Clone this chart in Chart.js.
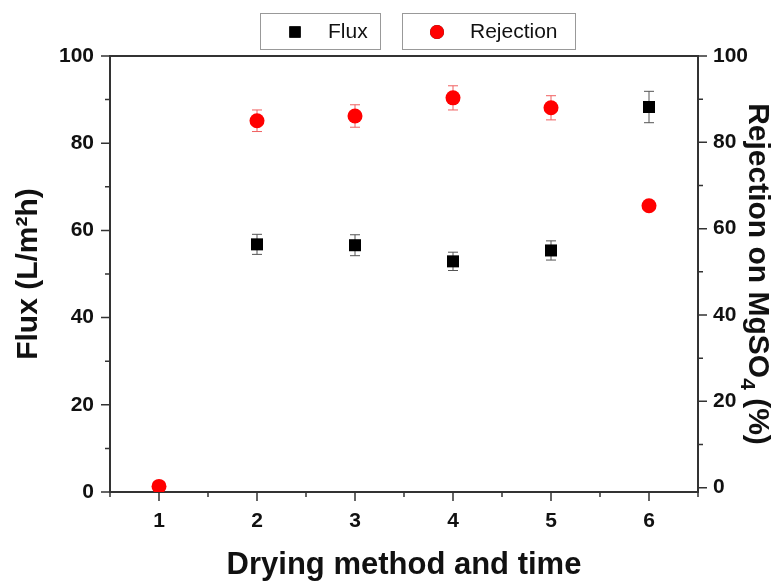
<!DOCTYPE html>
<html>
<head>
<meta charset="utf-8">
<script src="https://cdn.jsdelivr.net/npm/chart.js@4.4.1/dist/chart.umd.min.js"></script>
<style>
  body { margin: 0; background: #fff; }
  #wrap { width: 781px; height: 581px; }
</style>
</head>
<body>
<div id="wrap"><canvas id="chart" width="781" height="581"></canvas></div>
<script>
// drying method index on the x axis
const methods = [1, 2, 3, 4, 5, 6];
// flux (L/m2h), left axis; no square visible at method 1
const flux = [null, 56.8, 56.6, 52.9, 55.4, 88.3];
const fluxErr = [0, 2.3, 2.4, 2.1, 2.2, 3.6];
// rejection on MgSO4 (%), right axis
const rejection = [0.3, 85.0, 86.1, 90.3, 88.0, 65.3];
const rejectionErr = [0, 2.5, 2.6, 2.8, 2.8, 0.8];
// axis tick labels
const leftTicks = [0, 20, 40, 60, 80, 100];
const rightTicks = [0, 20, 40, 60, 80, 100];

const FONT = "'Liberation Sans', Arial, sans-serif";
const AXIS = '#333';

const toPoints = (ys) => methods.map((x, i) => ({ x: x, y: ys[i] })).filter(p => p.y !== null);

// error bars, drawn through the scales
const errorBars = {
    id: 'errorBars',
    beforeDatasetsDraw(chart) {
        const ctx = chart.ctx;
        const sets = [
            { ys: flux, errs: fluxErr, axis: 'y', color: '#555' },
            { ys: rejection, errs: rejectionErr, axis: 'y2', color: '#f06060' }
        ];
        const xs = chart.scales.x;
        ctx.save();
        ctx.lineWidth = 1;
        sets.forEach(s => {
            const ys = chart.scales[s.axis];
            ctx.strokeStyle = s.color;
            methods.forEach((m, i) => {
                if (s.ys[i] === null || !s.errs[i]) return;
                const px = xs.getPixelForValue(m);
                const top = ys.getPixelForValue(s.ys[i] + s.errs[i]);
                const bot = ys.getPixelForValue(s.ys[i] - s.errs[i]);
                ctx.beginPath();
                ctx.moveTo(px, top); ctx.lineTo(px, bot);
                ctx.moveTo(px - 5, top); ctx.lineTo(px + 5, top);
                ctx.moveTo(px - 5, bot); ctx.lineTo(px + 5, bot);
                ctx.stroke();
            });
        });
        ctx.restore();
    }
};

// tick marks (major + minor) and the top frame line
const frame = {
    id: 'frame',
    afterDraw(chart) {
        const ctx = chart.ctx;
        const a = chart.chartArea;
        const { x, y, y2 } = chart.scales;
        ctx.save();
        ctx.strokeStyle = AXIS;
        ctx.lineWidth = 2;
        ctx.beginPath();
        ctx.moveTo(a.left - 1, a.top); ctx.lineTo(a.right + 1, a.top);
        ctx.stroke();
        ctx.lineWidth = 1.5;
        ctx.beginPath();
        for (let v = 0; v <= 100; v += 10) {
            const len = v % 20 === 0 ? 9 : 5;
            const py = y.getPixelForValue(v);
            ctx.moveTo(a.left, py); ctx.lineTo(a.left - len, py);
            const py2 = y2.getPixelForValue(v);
            ctx.moveTo(a.right, py2); ctx.lineTo(a.right + len, py2);
        }
        for (let v = 0.5; v <= 6.5; v += 0.5) {
            const len = Number.isInteger(v) ? 9 : 5;
            const px = x.getPixelForValue(v);
            ctx.moveTo(px, a.bottom); ctx.lineTo(px, a.bottom + len);
        }
        ctx.stroke();
        ctx.restore();
    }
};

// right axis title with a real subscript 4
const rightTitle = {
    id: 'rightTitle',
    afterDraw(chart) {
        const ctx = chart.ctx;
        const a = chart.chartArea;
        const parts = [
            { t: 'Rejection on MgSO', size: 30, dy: 0 },
            { t: '4', size: 21, dy: 8 },
            { t: ' (%)', size: 30, dy: 0 }
        ];
        ctx.save();
        let total = 0;
        parts.forEach(p => {
            ctx.font = 'bold ' + p.size + 'px ' + FONT;
            p.w = ctx.measureText(p.t).width;
            total += p.w;
        });
        ctx.translate(chart.width - 22, (a.top + a.bottom) / 2);
        ctx.rotate(Math.PI / 2);
        ctx.fillStyle = '#111';
        ctx.textBaseline = 'alphabetic';
        let cx = -total / 2;
        parts.forEach(p => {
            ctx.font = 'bold ' + p.size + 'px ' + FONT;
            ctx.fillText(p.t, cx, 10 + p.dy);
            cx += p.w;
        });
        ctx.restore();
    }
};

// boxed legend entries across the top
const boxLegend = {
    id: 'boxLegend',
    afterDraw(chart) {
        const ctx = chart.ctx;
        const items = [
            { ds: chart.data.datasets[0], box: [260, 13, 120, 36] },
            { ds: chart.data.datasets[1], box: [402, 13, 173, 36] }
        ];
        ctx.save();
        items.forEach(it => {
            const [bx, by, bw, bh] = it.box;
            ctx.strokeStyle = '#999';
            ctx.lineWidth = 1;
            ctx.strokeRect(bx + 0.5, by + 0.5, bw, bh);
            const cy = by + bh / 2;
            Chart.helpers.drawPoint(ctx, {
                pointStyle: it.ds.pointStyle,
                radius: it.ds.pointStyle === 'rect' ? 8 : 7,
                borderWidth: 0,
                rotation: 0
            }, bx + 35, cy + 1);
            ctx.fillStyle = it.ds.backgroundColor;
            ctx.fill();
            ctx.fillStyle = '#111';
            ctx.font = '21px ' + FONT;
            ctx.textBaseline = 'middle';
            ctx.fillText(it.ds.label, bx + 68, cy + 1);
        });
        ctx.restore();
    }
};

const tickFont = { family: FONT, size: 21, weight: 'bold' };
const titleFont = { family: FONT, size: 30, weight: 'bold' };

new Chart(document.getElementById('chart'), {
    type: 'scatter',
    data: {
        datasets: [{
            label: 'Flux',
            data: toPoints(flux),
            yAxisID: 'y',
            pointStyle: 'rect',
            pointRadius: 8.5,
            pointHoverRadius: 8.5,
            backgroundColor: '#000',
            borderColor: '#000',
            borderWidth: 0
        }, {
            label: 'Rejection',
            data: toPoints(rejection),
            yAxisID: 'y2',
            pointStyle: 'circle',
            pointRadius: 7.5,
            pointHoverRadius: 7.5,
            backgroundColor: '#ff0000',
            borderColor: '#ff0000',
            borderWidth: 0
        }]
    },
    options: {
        responsive: false,
        animation: false,
        layout: { padding: { top: 56, left: 0, right: 0, bottom: 0 } },
        plugins: {
            legend: { display: false },
            tooltip: { enabled: false }
        },
        scales: {
            x: {
                type: 'linear',
                min: 0.5,
                max: 6.5,
                afterBuildTicks: axis => { axis.ticks = methods.map(v => ({ value: v })); },
                afterFit: axis => { axis.height = 89; },
                border: { display: true, color: AXIS, width: 2 },
                grid: { drawOnChartArea: false, drawTicks: true, tickLength: 9, tickColor: 'rgba(0,0,0,0)' },
                ticks: { font: tickFont, color: '#111', padding: 8 },
                title: { display: true, text: 'Drying method and time', font: { family: FONT, size: 31, weight: 'bold' }, color: '#111', padding: { bottom: -3 } }
            },
            y: {
                position: 'left',
                min: 0,
                max: 100,
                afterBuildTicks: axis => { axis.ticks = leftTicks.map(v => ({ value: v })); },
                afterFit: axis => { axis.width = 110; },
                border: { display: true, color: AXIS, width: 2 },
                grid: { drawOnChartArea: false, drawTicks: true, tickLength: 9, tickColor: 'rgba(0,0,0,0)' },
                ticks: { font: tickFont, color: '#111', padding: 7 },
                title: { display: true, text: 'Flux (L/m²h)', font: titleFont, color: '#111', padding: { top: 11 } }
            },
            y2: {
                position: 'right',
                min: -1,
                max: 100,
                afterBuildTicks: axis => { axis.ticks = rightTicks.map(v => ({ value: v })); },
                afterFit: axis => { axis.width = 83; },
                border: { display: true, color: AXIS, width: 2 },
                grid: { drawOnChartArea: false, drawTicks: true, tickLength: 9, tickColor: 'rgba(0,0,0,0)' },
                ticks: { font: tickFont, color: '#111', padding: 6 },
                title: { display: false }
            }
        }
    },
    plugins: [errorBars, frame, rightTitle, boxLegend]
});
</script>
</body>
</html>
